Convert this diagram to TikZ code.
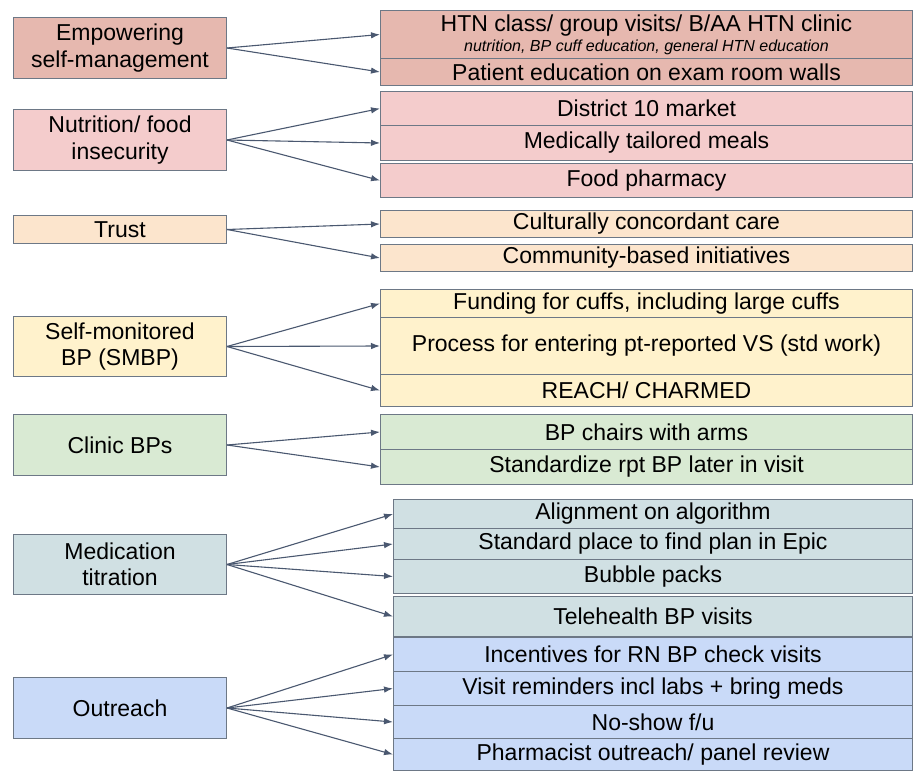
\documentclass[tikz,border=0pt]{standalone}
\usepackage{fontspec}
\setmainfont{Liberation Sans}
\usetikzlibrary{arrows.meta}
\definecolor{cEmp}{HTML}{E6B8AF}
\definecolor{cNut}{HTML}{F4CCCC}
\definecolor{cTru}{HTML}{FCE5CD}
\definecolor{cSmb}{HTML}{FFF2CC}
\definecolor{cCli}{HTML}{D9EAD3}
\definecolor{cMed}{HTML}{D0E0E3}
\definecolor{cOut}{HTML}{C9DAF8}
\definecolor{cBorder}{HTML}{6D7886}
\definecolor{cArrow}{HTML}{4A5870}
\begin{document}
\begin{tikzpicture}[x=1pt,y=-1pt,
  box/.style={draw=cBorder, line width=1pt, inner sep=0pt, align=center,
    font=\fontsize{23}{26.5}\selectfont, anchor=north west},
  lbox/.style={box, minimum width=213pt},
  rbox/.style={box, minimum width=532pt},
  sbox/.style={box, minimum width=519pt},
  arr/.style={draw=cArrow, line width=1.1pt, -{Latex[length=9pt,width=6.5pt]}}]
\fill[white] (0,0) rectangle (919,771);
\path[use as bounding box] (0,0) rectangle (919,771);

% left boxes
\node[lbox, fill=cEmp, minimum height=61pt] (emp) at (13,17) {Empowering\\self-management};
\node[lbox, fill=cNut, minimum height=61pt] (nut) at (13,109) {Nutrition/ food\\insecurity};
\node[lbox, fill=cTru, minimum height=28pt] (tru) at (13,215) {Trust};
\node[lbox, fill=cSmb, minimum height=60pt] (smb) at (13,316) {Self-monitored\\BP (SMBP)};
\node[lbox, fill=cCli, minimum height=61pt] (cli) at (13,414) {Clinic BPs};
\node[lbox, fill=cMed, minimum height=60pt] (med) at (13,534) {Medication\\titration};
\node[lbox, fill=cOut, minimum height=61pt] (out) at (13,677) {Outreach};

% right boxes
\node[rbox, fill=cEmp, minimum height=48pt] (htn) at (380,10) {HTN class/ group visits/ B/AA HTN clinic\\[-6.5pt]{\fontsize{16}{18}\selectfont\itshape nutrition, BP cuff education, general HTN education}};
\node[rbox, fill=cEmp, minimum height=27pt] (pat) at (380,58) {Patient education on exam room walls};
\node[rbox, fill=cNut, minimum height=34pt] (d10) at (380,91) {District 10 market};
\node[rbox, fill=cNut, minimum height=35pt] (mtm) at (380,125) {Medically tailored meals};
\node[rbox, fill=cNut, minimum height=34pt] (fph) at (380,163) {Food pharmacy};
\node[rbox, fill=cTru, minimum height=27pt] (cul) at (380,210) {Culturally concordant care};
\node[rbox, fill=cTru, minimum height=27pt] (com) at (380,244) {Community-based initiatives};
\node[rbox, fill=cSmb, minimum height=28pt] (fun) at (380,289) {Funding for cuffs, including large cuffs};
\node[rbox, fill=cSmb, minimum height=57pt] (pro) at (380,317) {Process for entering pt-reported VS (std work)};
\node[rbox, fill=cSmb, minimum height=32pt] (rea) at (380,374) {REACH/ CHARMED};
\node[rbox, fill=cCli, minimum height=35pt] (cha) at (380,414) {BP chairs with arms};
\node[rbox, fill=cCli, minimum height=35pt] (std) at (380,449) {Standardize rpt BP later in visit};
\node[sbox, fill=cMed, minimum height=29pt] (alg) at (393,499) {Alignment on algorithm};
\node[sbox, fill=cMed, minimum height=31pt] (epi) at (393,528) {Standard place to find plan in Epic};
\node[sbox, fill=cMed, minimum height=34pt] (bub) at (393,559) {Bubble packs};
\node[sbox, fill=cMed, minimum height=40pt] (tel) at (393,596) {Telehealth BP visits};
\node[sbox, fill=cOut, minimum height=34pt] (inc) at (393,637) {Incentives for RN BP check visits};
\node[sbox, fill=cOut, minimum height=34pt] (vis) at (393,671) {Visit reminders incl labs + bring meds};
\node[sbox, fill=cOut, minimum height=33pt] (nos) at (393,705) {No-show f/u};
\node[sbox, fill=cOut, minimum height=32pt] (pha) at (393,738) {Pharmacist outreach/ panel review};

% arrows
\draw[arr] (emp.east) -- (htn.west);
\draw[arr] (emp.east) -- (pat.west);
\draw[arr] (nut.east) -- (d10.west);
\draw[arr] (nut.east) -- (mtm.west);
\draw[arr] (nut.east) -- (fph.west);
\draw[arr] (tru.east) -- (cul.west);
\draw[arr] (tru.east) -- (com.west);
\draw[arr] (smb.east) -- (fun.west);
\draw[arr] (smb.east) -- (pro.west);
\draw[arr] (smb.east) -- (rea.west);
\draw[arr] (cli.east) -- (cha.west);
\draw[arr] (cli.east) -- (std.west);
\draw[arr] (med.east) -- (alg.west);
\draw[arr] (med.east) -- (epi.west);
\draw[arr] (med.east) -- (bub.west);
\draw[arr] (med.east) -- (tel.west);
\draw[arr] (out.east) -- (inc.west);
\draw[arr] (out.east) -- (vis.west);
\draw[arr] (out.east) -- (nos.west);
\draw[arr] (out.east) -- (pha.west);
\end{tikzpicture}
\end{document}
